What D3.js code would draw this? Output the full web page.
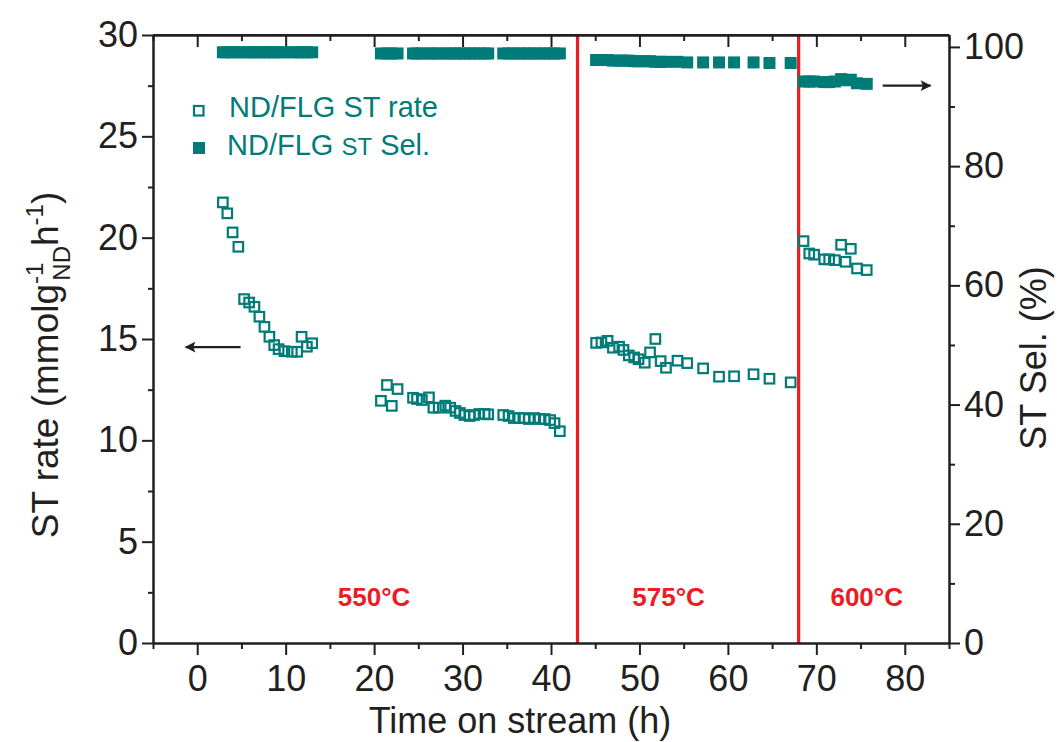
<!DOCTYPE html>
<html><head><meta charset="utf-8">
<script src="https://cdn.jsdelivr.net/npm/d3@7"></script>
<style>
html,body{margin:0;padding:0;background:#fff;}
svg{display:block;font-family:"Liberation Sans",Arial,sans-serif;}
</style></head>
<body>
<svg id="chart" width="1061" height="742"></svg>
<script>
// ---- data ----
const times = [
  2.9, 3.4, 4.0, 4.65, 5.3, 5.87, 6.47, 7.03, 7.6, 8.16, 8.7, 9.2, 9.86, 10.7, 11.3, 11.8, 12.4, 13.0,
  20.77, 21.45, 22.0, 22.65, 24.4, 24.85, 25.4, 26.2, 26.7, 27.3, 28.05, 28.6, 29.2, 29.7, 30.2, 30.8, 31.3, 31.9, 32.5, 32.9,
  34.6, 35.2, 35.8, 36.4, 37.0, 37.5, 38.1, 38.7, 39.3, 39.9, 40.4, 41.0,
  45.1, 45.7, 46.4, 47.0, 47.7, 48.2, 48.8, 49.4, 49.9, 50.6, 51.2, 51.8, 52.4, 53.0, 54.3, 55.4, 57.2, 59.0, 60.7, 62.9, 64.7, 67.1,
  68.55, 69.2, 69.75, 70.9, 71.45, 72.1, 72.8, 73.3, 73.9, 74.6, 75.7
];
const stRate = [
  21.74, 21.2, 20.26, 19.55, 16.97, 16.8, 16.59, 16.1, 15.6, 15.11, 14.7, 14.5, 14.4, 14.37, 14.37, 15.11, 14.62, 14.79,
  11.95, 12.73, 11.7, 12.53, 12.1, 12.04, 11.99, 12.12, 11.61, 11.61, 11.71, 11.61, 11.45, 11.35, 11.25, 11.2, 11.25, 11.3, 11.3, 11.28,
  11.25, 11.2, 11.1, 11.1, 11.1, 11.05, 11.1, 11.05, 11.05, 11.0, 10.85, 10.45,
  14.81, 14.83, 14.91, 14.57, 14.62, 14.46, 14.19, 14.09, 14.0, 13.83, 14.34, 15.0, 13.91, 13.58, 13.93, 13.81, 13.55, 13.14, 13.16, 13.26, 13.04, 12.86,
  19.83, 19.22, 19.16, 18.93, 18.93, 18.89, 19.65, 18.81, 19.45, 18.48, 18.4
];
const stSel = [
  99.1, 99.1, 99.1, 99.1, 99.1, 99.1, 99.1, 99.1, 99.1, 99.1, 99.1, 99.1, 99.1, 99.1, 99.1, 99.1, 99.1, 99.1,
  98.9, 98.9, 98.9, 98.9, 98.9, 98.9, 98.9, 98.9, 98.9, 98.9, 98.9, 98.9, 98.9, 98.9, 98.9, 98.9, 98.9, 98.9, 98.9, 98.9,
  98.9, 98.9, 98.9, 98.9, 98.9, 98.9, 98.9, 98.9, 98.9, 98.9, 98.9, 98.9,
  97.8, 97.8, 97.8, 97.7, 97.7, 97.7, 97.7, 97.6, 97.6, 97.6, 97.6, 97.5, 97.5, 97.5, 97.5, 97.4, 97.4, 97.4, 97.4, 97.4, 97.3, 97.3,
  94.2, 94.2, 94.2, 94.1, 94.1, 94.2, 94.6, 94.4, 94.5, 93.9, 93.8
];
const xTicks = [0, 10, 20, 30, 40, 50, 60, 70, 80];
const yLeftTicks = [0, 5, 10, 15, 20, 25, 30];
const yRightTicks = [0, 20, 40, 60, 80, 100];
const tempLines = [43, 68];
const tempLabels = ["550°C", "575°C", "600°C"];
const tempLabelX = [20, 53.3, 75.7];
const legendLabels = ["ND/FLG ST rate", "ND/FLG ", "ST", " Sel."];

// ---- layout ----
const svg = d3.select("#chart");
const L = 153, R = 949, T = 35, B = 643;
const teal = "#007b77", red = "#ed1c24", ink = "#231f20";

const x = d3.scaleLinear().domain([-5, 85]).range([L, R]);
const yL = d3.scaleLinear().domain([0, 30]).range([B, T]);
const yR = d3.scaleLinear().domain([0, 102]).range([B, T]);

// temperature divider lines
svg.selectAll("line.temp").data(tempLines).join("line")
  .attr("x1", d => x(d)).attr("x2", d => x(d))
  .attr("y1", T).attr("y2", B)
  .attr("stroke", red).attr("stroke-width", 3.2);

// axes
const fontTick = 36;
function styleAxis(g) {
  g.selectAll("path.domain").attr("stroke", ink).attr("stroke-width", 2);
  g.selectAll(".tick line").attr("stroke", ink).attr("stroke-width", 2);
  g.selectAll(".tick text").attr("fill", ink).style("font-size", fontTick + "px")
    .style("font-family", "'Liberation Sans', Arial, sans-serif");
}
const minorX = d3.range(-5, 86, 5).filter(d => d % 10 !== 0);
// bottom
svg.append("g").attr("transform", `translate(0,${B})`)
  .call(d3.axisBottom(x).tickValues(xTicks).tickSize(12).tickPadding(10).tickSizeOuter(0))
  .call(styleAxis);
svg.append("g").attr("transform", `translate(0,${B})`)
  .call(d3.axisBottom(x).tickValues(minorX).tickSize(6).tickFormat("").tickSizeOuter(0))
  .call(styleAxis);
// top (inward ticks)
svg.append("g").attr("transform", `translate(0,${T})`)
  .call(d3.axisBottom(x).tickValues(xTicks).tickSize(12).tickFormat("").tickSizeOuter(0))
  .call(styleAxis);
svg.append("g").attr("transform", `translate(0,${T})`)
  .call(d3.axisBottom(x).tickValues(minorX).tickSize(6).tickFormat("").tickSizeOuter(0))
  .call(styleAxis);
// left
svg.append("g").attr("transform", `translate(${L},0)`)
  .call(d3.axisLeft(yL).tickValues(yLeftTicks).tickSize(11).tickPadding(4).tickSizeOuter(0))
  .call(styleAxis);
svg.append("g").attr("transform", `translate(${L},0)`)
  .call(d3.axisLeft(yL).tickValues(d3.range(2.5, 30, 5)).tickSize(5).tickFormat("").tickSizeOuter(0))
  .call(styleAxis);
// right
svg.append("g").attr("transform", `translate(${R},0)`)
  .call(d3.axisRight(yR).tickValues(yRightTicks).tickSize(11).tickPadding(4).tickSizeOuter(0))
  .call(styleAxis);
svg.append("g").attr("transform", `translate(${R},0)`)
  .call(d3.axisRight(yR).tickValues(d3.range(10, 100, 20)).tickSize(6).tickFormat("").tickSizeOuter(0))
  .call(styleAxis);
// frame top line
svg.append("line").attr("x1", L).attr("x2", R).attr("y1", T).attr("y2", T)
  .attr("stroke", ink).attr("stroke-width", 2);

// selectivity (filled squares)
const sSel = 12;
svg.append("g").selectAll("rect").data(times).join("rect")
  .attr("x", (d) => x(d) - sSel / 2)
  .attr("y", (d, i) => yR(stSel[i]) - sSel / 2)
  .attr("width", sSel).attr("height", sSel)
  .attr("fill", teal);

// rate (open squares)
const sRate = 9.5;
svg.append("g").selectAll("rect").data(times).join("rect")
  .attr("x", (d) => x(d) - sRate / 2)
  .attr("y", (d, i) => yL(stRate[i]) - sRate / 2)
  .attr("width", sRate).attr("height", sRate)
  .attr("fill", "none").attr("stroke", teal).attr("stroke-width", 2.2);

// temperature labels
svg.selectAll("text.tl").data(tempLabels).join("text")
  .attr("x", (d, i) => x(tempLabelX[i])).attr("y", yL(1.85))
  .attr("text-anchor", "middle").attr("fill", red)
  .style("font-size", "26px").style("font-weight", "bold")
  .text(d => d);

// arrows
const defs = svg.append("defs");
defs.append("marker").attr("id", "ah").attr("viewBox", "0 0 10 10")
  .attr("refX", 9).attr("refY", 5).attr("markerWidth", 7).attr("markerHeight", 4.5)
  .attr("markerUnits", "strokeWidth").attr("orient", "auto")
  .append("path").attr("d", "M0,0 L10,5 L0,10 L2,5 Z").attr("fill", ink);
svg.append("line").attr("x1", x(4.9)).attr("x2", x(-1.3)).attr("y1", yL(14.6)).attr("y2", yL(14.6))
  .attr("stroke", ink).attr("stroke-width", 2.4).attr("marker-end", "url(#ah)");
svg.append("line").attr("x1", x(77.5)).attr("x2", x(82.9)).attr("y1", yR(93.5)).attr("y2", yR(93.5))
  .attr("stroke", ink).attr("stroke-width", 2.4).attr("marker-end", "url(#ah)");

// legend
svg.append("rect").attr("x", 194).attr("y", 106).attr("width", 9.5).attr("height", 9.5)
  .attr("fill", "none").attr("stroke", teal).attr("stroke-width", 2.2);
svg.append("text").attr("x", 229).attr("y", 117).attr("fill", teal)
  .style("font-size", "29px").text(legendLabels[0]);
svg.append("rect").attr("x", 193).attr("y", 142).attr("width", 12).attr("height", 12).attr("fill", teal);
const lt = svg.append("text").attr("x", 227).attr("y", 155).attr("fill", teal).style("font-size", "29px");
lt.append("tspan").text(legendLabels[1]);
lt.append("tspan").style("font-size", "24px").text(legendLabels[2]);
lt.append("tspan").text(legendLabels[3]);

// axis titles
svg.append("text").attr("x", 520).attr("y", 733).attr("text-anchor", "middle")
  .attr("fill", ink).style("font-size", "36px").text("Time on stream (h)");

const yt = svg.append("text").attr("transform", "translate(58,365) rotate(-90)")
  .attr("text-anchor", "middle").attr("fill", ink).style("font-size", "37px");
yt.append("tspan").text("ST rate (mmolg");
yt.append("tspan").attr("dy", -15).style("font-size", "24px").text("-1");
yt.append("tspan").attr("dy", 27).style("font-size", "24px").attr("dx", -18).text("ND");
yt.append("tspan").attr("dy", -12).text("h");
yt.append("tspan").attr("dy", -15).style("font-size", "24px").text("-1");
yt.append("tspan").attr("dy", 15).text(")");

svg.append("text").attr("transform", "translate(1046,358) rotate(-90)")
  .attr("text-anchor", "middle").attr("fill", ink).style("font-size", "36px")
  .text("ST Sel. (%)");
</script>
</body></html>
